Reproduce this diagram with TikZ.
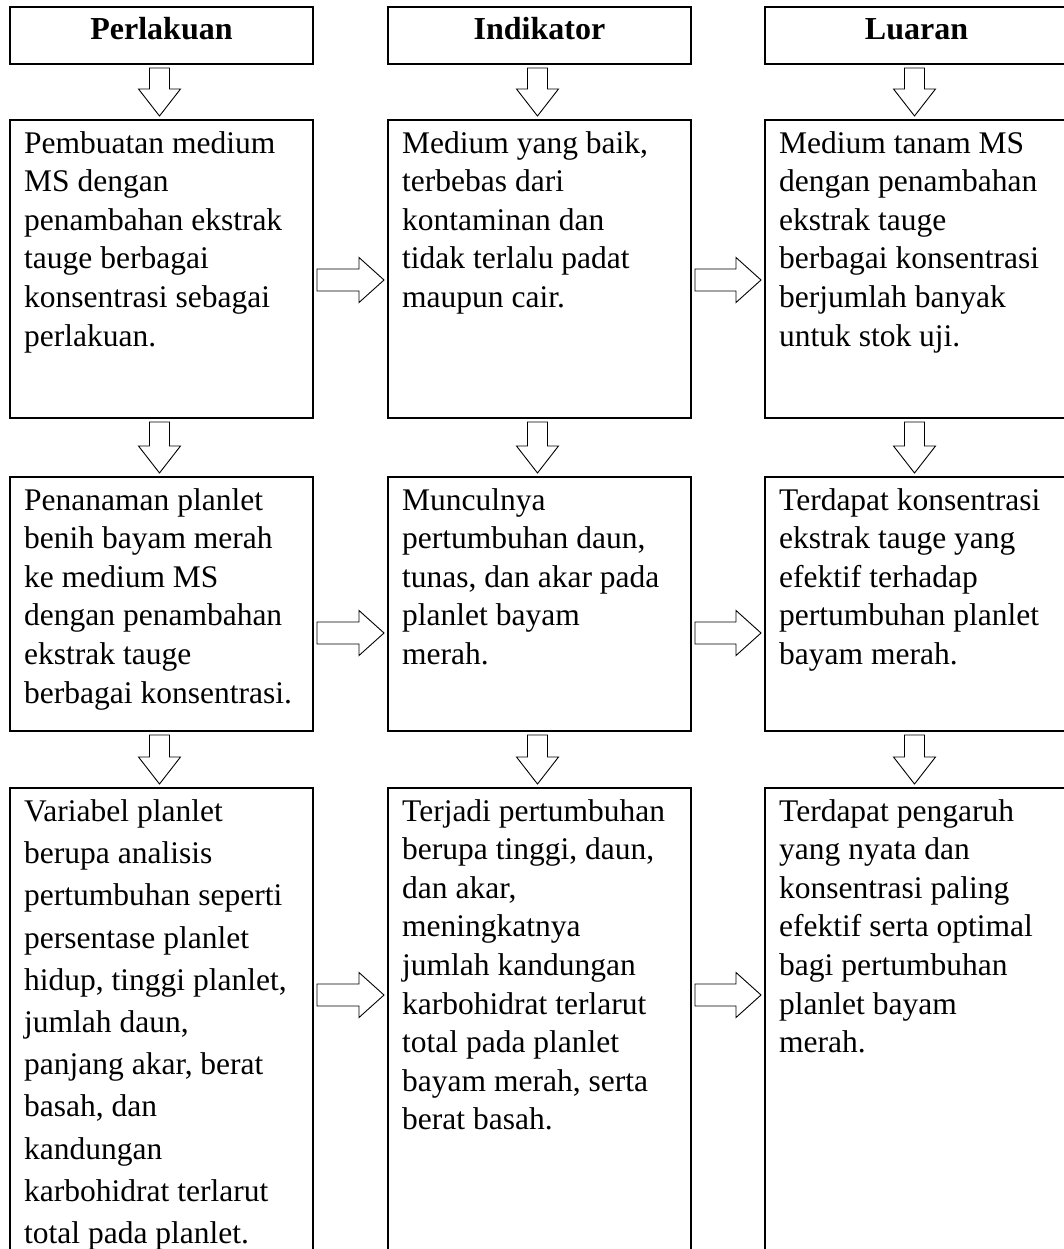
\documentclass[tikz,border=0pt]{standalone}
\usepackage{fontspec}
\setmainfont{Liberation Serif}
\usetikzlibrary{calc,positioning}

\tikzset{
  box/.style={draw, line width=2.4pt, anchor=north west, inner sep=0pt, outer sep=0pt,
    minimum width=303pt},
  hbox/.style={box, minimum height=57pt},
  txt/.style={anchor=north west, inner sep=0pt, align=left,
    font=\fontsize{31.5}{38.6}\selectfont, execute at begin node=\strut},
  wide/.style={font=\fontsize{31.5}{42.2}\selectfont},
  htxt/.style={anchor=base, inner sep=0pt, font=\fontsize{32}{38}\selectfont\bfseries},
  blk/.style={draw, line width=0.9pt, line join=miter}
}

% block arrow pointing down, from node #1 to node #2
\newcommand\dblock[2]{%
  \draw[blk] let \p1=($(#1.south)+(-2,4)$), \p2=($(#2.north)+(-2,-4)$) in
    (\x1-10pt,\y1) -- (\x1+10pt,\y1) -- (\x1+10pt,\y2+27pt) -- (\x1+21pt,\y2+27pt)
    -- (\x1,\y2) -- (\x1-21pt,\y2+27pt) -- (\x1-10pt,\y2+27pt) -- cycle;}
% block arrow pointing right, from node #1 to node #2 at height #3
\newcommand\rblock[3]{%
  \draw[blk] let \p1=($(#1.east |- 0,#3)+(4,0)$), \p2=($(#2.west |- 0,#3)+(-4,0)$) in
    (\x1,\y1+11pt) -- (\x2-25pt,\y1+11pt) -- (\x2-25pt,\y1+22.5pt) -- (\x2,\y1)
    -- (\x2-25pt,\y1-22.5pt) -- (\x2-25pt,\y1-11pt) -- (\x1,\y1-11pt) -- cycle;}

\begin{document}
\begin{tikzpicture}[x=1pt,y=-1pt]
\useasboundingbox (0,0) rectangle (1064,1249);
\clip (0,0) rectangle (1064,1249);

%% headers
\node[hbox] (h1) at (10,7) {};
\node[hbox] (h2) at (388,7) {};
\node[hbox] (h3) at (765,7) {};
\node[htxt] (ht1) at ($(h1.south)+(0,-24)$) {Perlakuan};
\node[htxt] (ht2) at ($(h2.south)+(0,-24)$) {Indikator};
\node[htxt] (ht3) at ($(h3.south)+(0,-24)$) {Luaran};

%% boxes
\node[box, minimum height=298pt] (p1) at (10,120) {};
\node[box, minimum height=298pt] (i1) at (388,120) {};
\node[box, minimum height=298pt] (l1) at (765,120) {};
\node[box, minimum height=254pt] (p2) at (10,477) {};
\node[box, minimum height=254pt] (i2) at (388,477) {};
\node[box, minimum height=254pt] (l2) at (765,477) {};
\node[box, minimum height=480pt] (p3) at (10,788) {};
\node[box, minimum height=480pt] (i3) at (388,788) {};
\node[box, minimum height=480pt] (l3) at (765,788) {};

%% texts
\node[txt] (tp1) at ($(p1.north west)+(14,11)$) {Pembuatan medium\\MS dengan\\penambahan ekstrak\\tauge berbagai\\konsentrasi sebagai\\perlakuan.};
\node[txt] (ti1) at ($(i1.north west)+(14,11)$) {Medium yang baik,\\terbebas dari\\kontaminan dan\\tidak terlalu padat\\maupun cair.};
\node[txt] (tl1) at ($(l1.north west)+(14,11)$) {Medium tanam MS\\dengan penambahan\\ekstrak tauge\\berbagai konsentrasi\\berjumlah banyak\\untuk stok uji.};
\node[txt] (tp2) at ($(p2.north west)+(14,11)$) {Penanaman planlet\\benih bayam merah\\ke medium MS\\dengan penambahan\\ekstrak tauge\\berbagai konsentrasi.};
\node[txt] (ti2) at ($(i2.north west)+(14,11)$) {Munculnya\\pertumbuhan daun,\\tunas, dan akar pada\\planlet bayam\\merah.};
\node[txt] (tl2) at ($(l2.north west)+(14,11)$) {Terdapat konsentrasi\\ekstrak tauge yang\\efektif terhadap\\pertumbuhan planlet\\bayam merah.};
\node[txt, wide] (tp3) at ($(p3.north west)+(14,11.5)$) {Variabel planlet\\berupa analisis\\pertumbuhan seperti\\persentase planlet\\hidup, tinggi planlet,\\jumlah daun,\\panjang akar, berat\\basah, dan\\kandungan\\karbohidrat terlarut\\total pada planlet.};
\node[txt] (ti3) at ($(i3.north west)+(14,11)$) {Terjadi pertumbuhan\\berupa tinggi, daun,\\dan akar,\\meningkatnya\\jumlah kandungan\\karbohidrat terlarut\\total pada planlet\\bayam merah, serta\\berat basah.};
\node[txt] (tl3) at ($(l3.north west)+(14,11)$) {Terdapat pengaruh\\yang nyata dan\\konsentrasi paling\\efektif serta optimal\\bagi pertumbuhan\\planlet bayam\\merah.};

%% down arrows
\dblock{h1}{p1} \dblock{h2}{i1} \dblock{h3}{l1}
\dblock{p1}{p2} \dblock{i1}{i2} \dblock{l1}{l2}
\dblock{p2}{p3} \dblock{i2}{i3} \dblock{l2}{l3}

%% right arrows
\rblock{p1}{i1}{280} \rblock{i1}{l1}{280}
\rblock{p2}{i2}{633} \rblock{i2}{l2}{633}
\rblock{p3}{i3}{995} \rblock{i3}{l3}{995}
\end{tikzpicture}
\end{document}
